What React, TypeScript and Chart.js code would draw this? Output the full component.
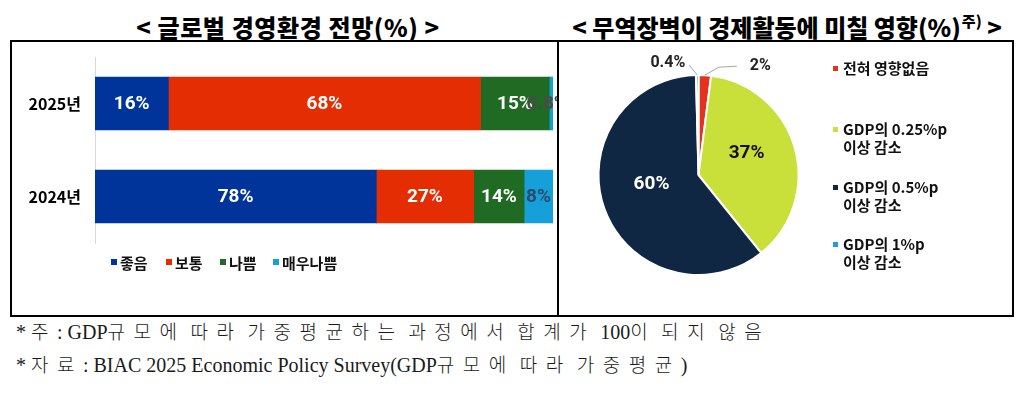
import React, { useEffect, useRef } from 'react';
import { Chart, registerables } from 'chart.js';

Chart.register(...registerables);

// ---- Left chart data: 글로벌 경영환경 전망(%) ----
const years = ['2025년', '2024년'];
const outlookSeries = ['좋음', '보통', '나쁨', '매우나쁨'];
const goodValues = [16, 78];
const normalValues = [68, 27];
const badValues = [15, 14];
const veryBadValues = [0.8, 8];
const outlookColors = ['#00349A', '#E42D02', '#1F6B24', '#15A0D9'];

// ---- Right chart data: 무역장벽이 경제활동에 미칠 영향(%) ----
const impactLabels = ['전혀 영향없음', 'GDP의 0.25%p 이상 감소', 'GDP의 0.5%p 이상 감소', 'GDP의 1%p 이상 감소'];
const impactLegendLines = [['전혀 영향없음'], ['GDP의 0.25%p', '이상 감소'], ['GDP의 0.5%p', '이상 감소'], ['GDP의 1%p', '이상 감소']];
const impactValues = [2, 37, 60, 0.4];
const impactColors = ['#E5321E', '#C9DF3A', '#0F2742', '#1E9FDA'];

const footnote1 = '* 주: GDP규모에 따라 가중평균하는 과정에서 합계가 100이 되지 않음';
const footnote2 = '* 자료: BIAC 2025 Economic Policy Survey(GDP규모에 따라 가중평균)';

const KR = '"Noto Sans CJK KR", "Noto Sans", sans-serif';
const NUM = 'Roboto, "Liberation Sans", sans-serif';

function loadFonts() {
  const fonts = (document as any).fonts;
  if (!fonts || !fonts.load) return Promise.resolve();
  return Promise.all([
    fonts.load('bold 19px Roboto'),
    fonts.load('bold 16px Roboto'),
    fonts.load('bold 16px "Noto Sans CJK KR"', '2025년'),
  ]).catch(() => undefined);
}

function BarChart() {
  const ref = useRef<HTMLCanvasElement>(null);
  useEffect(() => {
    let chart: Chart | null = null;
    let cancelled = false;
    const raw = [goodValues, normalValues, badValues, veryBadValues];
    const totals = years.map((_, i) => raw.reduce((s, arr) => s + arr[i], 0));
    const labelColors = ['#FFFFFF', '#FFFFFF', '#FFFFFF', '#2C4B6E'];
    const labelPlugin = {
      id: 'barLabels',
      afterDatasetsDraw(c: any) {
        const ctx = c.ctx;
        ctx.save();
        ctx.font = 'bold 19px ' + NUM;
        ctx.textAlign = 'center';
        ctx.textBaseline = 'middle';
        raw.forEach((arr, k) => {
          const meta = c.getDatasetMeta(k);
          meta.data.forEach((bar: any, i: number) => {
            const p = bar.getProps(['x', 'y', 'base'], true);
            const v = arr[i];
            const cx = (p.x + p.base) / 2;
            ctx.fillStyle = v < 1 ? '#4A4A4A' : labelColors[k];
            ctx.fillText(v + '%', v < 1 ? cx - 4 : cx, p.y + 1);
          });
        });
        ctx.restore();
      },
    };
    loadFonts().then(() => {
      if (cancelled || !ref.current) return;
      chart = new Chart(ref.current, {
        type: 'bar',
        data: {
          labels: years,
          datasets: raw.map((arr, k) => ({
            label: outlookSeries[k],
            data: arr.map((v, i) => (v / totals[i]) * 100),
            backgroundColor: outlookColors[k],
            borderWidth: 0,
            barThickness: 53,
          })),
        },
        options: {
          indexAxis: 'y',
          animation: false,
          responsive: false,
          events: [],
          layout: { padding: { left: 0, right: 4, top: 15, bottom: 72 } },
          scales: {
            x: { stacked: true, min: 0, max: 100, display: false },
            y: {
              stacked: true,
              grid: { display: false, drawTicks: false },
              border: { display: true, color: '#D9D9D9', width: 1 },
              ticks: { padding: 14, color: '#000', font: { family: KR, weight: 'bold', size: 16 } },
              afterFit: (s: any) => {
                s.width = 83;
                s.paddingTop = 0;
                s.paddingBottom = 0;
              },
            },
          },
          plugins: { legend: { display: false }, tooltip: { enabled: false } },
        } as any,
        plugins: [labelPlugin],
      });
    });
    return () => {
      cancelled = true;
      if (chart) chart.destroy();
    };
  }, []);
  return <canvas ref={ref} width={545} height={273} style={{ position: 'absolute', left: 12, top: 42 }} />;
}

function PieChart() {
  const ref = useRef<HTMLCanvasElement>(null);
  useEffect(() => {
    let chart: Chart | null = null;
    let cancelled = false;
    const labelPlugin = {
      id: 'pieLabels',
      afterDatasetsDraw(c: any) {
        const ctx = c.ctx;
        const meta = c.getDatasetMeta(0);
        ctx.save();
        ctx.textBaseline = 'middle';
        meta.data.forEach((arc: any, i: number) => {
          const v = impactValues[i];
          const p = arc.getProps(['x', 'y', 'startAngle', 'endAngle', 'outerRadius'], true);
          const mid = (p.startAngle + p.endAngle) / 2;
          if (v >= 10) {
            const pos = arc.tooltipPosition(true);
            ctx.font = 'bold 19px ' + NUM;
            ctx.textAlign = 'center';
            ctx.fillStyle = i === 2 ? '#FFFFFF' : '#111111';
            ctx.fillText(v + '%', pos.x, pos.y - 8);
          } else {
            const ex = p.x + Math.cos(mid) * p.outerRadius;
            const ey = p.y + Math.sin(mid) * p.outerRadius;
            ctx.strokeStyle = '#A6A6A6';
            ctx.lineWidth = 1;
            ctx.font = 'bold 16px ' + NUM;
            ctx.fillStyle = '#222222';
            ctx.beginPath();
            if (Math.cos(mid) >= 0) {
              ctx.moveTo(ex, ey);
              ctx.lineTo(ex + 14, ey - 8);
              ctx.lineTo(ex + 32, ey - 9);
              ctx.stroke();
              ctx.textAlign = 'left';
              ctx.fillText(v + '%', ex + 45, ey - 9);
            } else {
              ctx.moveTo(ex, ey);
              ctx.lineTo(ex - 8, ey - 10);
              ctx.stroke();
              ctx.textAlign = 'right';
              ctx.fillText(v + '%', ex - 12, ey - 12);
            }
          }
        });
        ctx.restore();
      },
    };
    loadFonts().then(() => {
      if (cancelled || !ref.current) return;
      chart = new Chart(ref.current, {
        type: 'pie',
        data: {
          labels: impactLabels,
          datasets: [
            {
              data: impactValues,
              backgroundColor: impactColors,
              borderColor: '#FFFFFF',
              borderWidth: 2,
              hoverOffset: 0,
            },
          ],
        },
        options: {
          animation: false,
          responsive: false,
          events: [],
          layout: { padding: { left: 36, top: 32, right: 211, bottom: 39 } },
          plugins: { legend: { display: false }, tooltip: { enabled: false } },
        } as any,
        plugins: [labelPlugin],
      });
    });
    return () => {
      cancelled = true;
      if (chart) chart.destroy();
    };
  }, []);
  return <canvas ref={ref} width={450} height={273} style={{ position: 'absolute', left: 561, top: 42 }} />;
}

function Footnote({ text, top }: { text: string; top: number }) {
  const parts = text.match(/[\uAC00-\uD7A3]+|[^\uAC00-\uD7A3]+/g) || [];
  return (
    <div
      style={{
        position: 'absolute',
        left: 16,
        top,
        whiteSpace: 'nowrap',
        lineHeight: '24px',
        fontFamily: '"Liberation Serif", "DejaVu Serif", serif',
        fontSize: 20,
        color: '#1A1A1A',
      }}
    >
      {parts.map((p, i) =>
        /[\uAC00-\uD7A3]/.test(p) ? (
          <span key={i} style={{ fontFamily: KR, fontSize: 19, fontWeight: 300, letterSpacing: 8.5 }}>
            {p}
          </span>
        ) : (
          <span key={i}>{p}</span>
        )
      )}
    </div>
  );
}

export default function App() {
  const outlookLegendLeft = [111, 166, 220, 273];
  const impactLegendTop = [59, 120, 178, 235];
  const titleStyle: any = {
    position: 'absolute',
    top: 11,
    textAlign: 'center',
    fontFamily: KR,
    fontWeight: 900,
    fontSize: 24,
    lineHeight: '32px',
    color: '#000',
    whiteSpace: 'nowrap',
  };
  return (
    <div style={{ position: 'fixed', left: 0, top: 0, width: 1026, height: 394, background: '#fff', overflow: 'hidden' }}>
      <div style={{ ...titleStyle, left: 0, width: 576, letterSpacing: 0.6 }}>{'< 글로벌 경영환경 전망(%) >'}</div>
      <div style={{ ...titleStyle, left: 560, width: 454 }}>
        {'< 무역장벽이 경제활동에 미칠 영향(%)'}
        <span style={{ fontSize: 15, position: 'relative', top: -10, marginLeft: 1 }}>주)</span>
        {' >'}
      </div>

      <div style={{ position: 'absolute', left: 10, top: 40, width: 549, height: 277, border: '2px solid #000', boxSizing: 'border-box' }} />
      <div style={{ position: 'absolute', left: 557, top: 40, width: 457, height: 277, border: '2px solid #000', boxSizing: 'border-box' }} />

      <BarChart />
      <PieChart />

      {outlookSeries.map((s, k) => (
        <div
          key={s}
          style={{
            position: 'absolute',
            left: outlookLegendLeft[k],
            top: 252,
            height: 20,
            display: 'flex',
            alignItems: 'center',
            fontFamily: KR,
            fontWeight: 700,
            fontSize: 15,
            color: '#111',
            whiteSpace: 'nowrap',
          }}
        >
          <span style={{ display: 'inline-block', width: 6, height: 6, background: outlookColors[k], marginRight: 3 }} />
          {s}
        </div>
      ))}

      {impactLegendLines.map((lines, k) => (
        <div key={k} style={{ position: 'absolute', left: 833, top: impactLegendTop[k], fontFamily: KR, fontWeight: 700, fontSize: 15, lineHeight: '18px', color: '#111' }}>
          <span style={{ position: 'absolute', left: 0, top: 7, width: 5, height: 5, background: impactColors[k] }} />
          {lines.map((l, j) => (
            <div key={j} style={{ marginLeft: 10, whiteSpace: 'nowrap' }}>
              {l}
            </div>
          ))}
        </div>
      ))}

      <Footnote text={footnote1} top={319} />
      <Footnote text={footnote2} top={352} />
    </div>
  );
}
